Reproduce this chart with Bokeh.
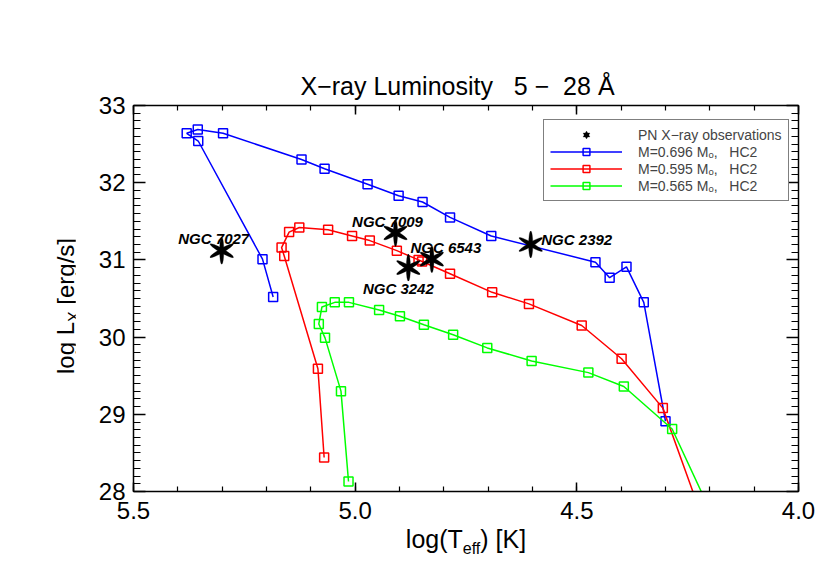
import numpy as np
from bokeh.plotting import figure
from bokeh.layouts import column, row
from bokeh.models import (Range1d, LinearAxis, SingleIntervalTicker, PrintfTickFormatter,
                          CustomJSTickFormatter, Legend, LegendItem, ColumnDataSource, Div)
from bokeh.core.properties import value
from bokeh.embed import file_html
from bokeh.resources import INLINE

# ---------------- data ----------------
blue_logt = [4.300, 4.349, 4.388, 4.426, 4.458, 4.693, 4.786, 4.848, 4.902, 4.972,
             5.069, 5.121, 5.298, 5.355, 5.380, 5.354, 5.209, 5.185]
blue_loglx = [28.91, 30.45, 30.91, 30.77, 30.97, 31.31, 31.55, 31.75, 31.83, 31.98,
              32.18, 32.30, 32.64, 32.69, 32.64, 32.54, 31.01, 30.52]

red_logt = [4.207, 4.306, 4.399, 4.489, 4.608, 4.691, 4.786, 4.849, 4.857, 4.906,
            4.967, 5.007, 5.061, 5.126, 5.149, 5.166, 5.160, 5.084, 5.070]
red_loglx = [27.50, 29.08, 29.72, 30.15, 30.43, 30.58, 30.82, 30.98, 31.00, 31.12,
             31.25, 31.31, 31.39, 31.42, 31.36, 31.16, 31.05, 29.59, 28.44]

green_logt = [4.179, 4.285, 4.394, 4.474, 4.602, 4.702, 4.779, 4.845, 4.899, 4.946,
              5.014, 5.046, 5.075, 5.082, 5.068, 5.032, 5.015]
green_loglx = [27.50, 28.81, 29.36, 29.54, 29.69, 29.86, 30.03, 30.16, 30.27, 30.35,
               30.45, 30.45, 30.39, 30.17, 29.99, 29.30, 28.13]

obs_names = ["NGC 7027", "NGC 7009", "NGC 3242", "NGC 6543", "NGC 2392"]
obs_logt = [5.301, 4.909, 4.880, 4.827, 4.604]
obs_loglx = [31.12, 31.35, 30.90, 31.01, 31.20]

series_labels = ["M=0.696 M\u2092,   HC2", "M=0.595 M\u2092,   HC2", "M=0.565 M\u2092,   HC2"]
obs_label = "PN X\u2212ray observations"
title_text = "X\u2212ray Luminosity \u00a0\u00a05 \u2212 \u00a028 \u00c5"

# label offsets (screen px) for the object names
name_dx = [-8, -8, -10, 14, 46]
name_dy = [-12, -11, 21, -12, -5]

FONT = "Liberation Sans"

p = figure(width=755, height=525, output_backend="svg", toolbar_location=None,
           x_range=Range1d(5.5, 4.0), y_range=Range1d(28.0, 33.0),
           min_border_left=58, min_border_right=32, min_border_top=105, min_border_bottom=34,
           x_axis_location=None, y_axis_location=None)
p.xgrid.visible = False
p.ygrid.visible = False
p.outline_line_color = "black"
p.outline_line_width = 1
p.background_fill_color = "white"
p.border_fill_color = "white"

p.title.text = title_text
p.title.align = "left"
p.title.offset = 167
p.title.text_font = FONT
p.title.text_font_size = "25px"
p.title.text_font_style = "normal"
p.title.text_color = "black"
p.title.standoff = 11


def style_axis(ax, tin, tmin, show):
    ax.axis_line_width = 1.5
    ax.axis_line_color = "black"
    ax.major_tick_in = tin
    ax.major_tick_out = 0
    ax.minor_tick_in = tmin
    ax.minor_tick_out = 0
    ax.major_tick_line_width = 1.5
    ax.minor_tick_line_width = 1.2
    ax.major_label_text_font = FONT
    ax.major_label_text_font_size = "24px"
    ax.major_label_text_color = "black"
    if not show:
        ax.formatter = CustomJSTickFormatter(code="return ''")
        ax.major_label_text_font_size = "1px"
        ax.major_label_standoff = 0


xb = LinearAxis(ticker=SingleIntervalTicker(interval=0.5, num_minor_ticks=5),
                formatter=PrintfTickFormatter(format="%.1f"))
style_axis(xb, 9, 5, True)
xb.major_label_standoff = 10
xt = LinearAxis(ticker=SingleIntervalTicker(interval=0.5, num_minor_ticks=5))
style_axis(xt, 9, 5, False)
yl = LinearAxis(ticker=SingleIntervalTicker(interval=1, num_minor_ticks=10),
                formatter=PrintfTickFormatter(format="%d"))
style_axis(yl, 12, 7, True)
yl.major_label_standoff = 8
yr = LinearAxis(ticker=SingleIntervalTicker(interval=1, num_minor_ticks=10))
style_axis(yr, 12, 7, False)
p.add_layout(xb, "below")
p.add_layout(xt, "above")
p.add_layout(yl, "left")
p.add_layout(yr, "right")

# ---------------- tracks ----------------
items = []
for xs, ys, col, lab in [(blue_logt, blue_loglx, "#0000ff", series_labels[0]),
                         (red_logt, red_loglx, "#ff0000", series_labels[1]),
                         (green_logt, green_loglx, "#00ff00", series_labels[2])]:
    src = ColumnDataSource(dict(x=xs, y=ys))
    ln = p.line("x", "y", source=src, line_color=col, line_width=1.5)
    sq = p.scatter("x", "y", source=src, marker="square", size=9, fill_color=None,
                   line_color=col, line_width=1.5)
    items.append((lab, [ln, sq]))

# ---------------- observations (6-point stars) ----------------
obs_src = ColumnDataSource(dict(x=obs_logt, y=obs_loglx, name=obs_names,
                                dx=name_dx, dy=name_dy))
for ang in [0.0, np.pi / 3, 2 * np.pi / 3]:
    p.ellipse("x", "y", source=obs_src, width=4.2, height=27, angle=ang,
              width_units="screen", height_units="screen",
              fill_color="black", line_color="black", line_width=0.3)

# legend-only symbol (hexagram), hidden in the plot
leg_star = []
for mk in ["triangle", "inverted_triangle"]:
    r = p.scatter("x", "y", source=obs_src, marker=mk, size=15,
                  fill_color="black", line_color="black", line_width=0.3)
    r.visible = False
    leg_star.append(r)

p.text("x", "y", text="name", source=obs_src, x_offset="dx", y_offset="dy",
       text_font=value(FONT), text_font_style="bold italic", text_font_size="15px",
       text_align="center", text_baseline="alphabetic", text_color="black")

legend = Legend(items=[LegendItem(label=obs_label, renderers=leg_star)] +
                [LegendItem(label=l, renderers=r) for l, r in items],
                location=(410, 290))
legend.border_line_color = "black"
legend.border_line_width = 1
legend.background_fill_color = "white"
legend.background_fill_alpha = 1
legend.inactive_fill_alpha = 0
legend.label_text_font = FONT
legend.label_text_font_size = "14px"
legend.glyph_width = 72
legend.glyph_height = 17
legend.label_height = 17
legend.spacing = 0
legend.padding = 6
legend.margin = 0
legend.label_standoff = 16
legend.click_policy = "none"
p.add_layout(legend)

# ---------------- axis titles with subscripts ----------------
ylab_html = ('<div style="position:relative;width:75px;height:525px;">'
             '<span style="position:absolute;left:67px;top:306px;'
             'transform:translate(-50%,-50%) rotate(-90deg);white-space:nowrap;'
             "font-family:'Liberation Sans';font-size:24px;line-height:24px;color:black;\">"
             'log L<span style="font-size:16px;position:relative;top:6px;">X</span>'
             ' [erg/s]</span></div>')
xlab_html = ('<div style="position:relative;width:830px;height:36px;">'
             '<span style="position:absolute;left:466px;top:2px;'
             'transform:translateX(-50%);white-space:nowrap;'
             "font-family:'Liberation Sans';font-size:25px;line-height:24px;color:black;\">"
             'log(T<span style="font-size:16px;position:relative;top:6px;">eff</span>'
             ') [K]</span></div>')

ylab = Div(text=ylab_html, width=75, height=525, margin=0)
xlab = Div(text=xlab_html, width=830, height=36, margin=0)

layout = column(row(ylab, p, spacing=0), xlab, spacing=0)

open("out.html", "w").write(file_html(layout, INLINE))
